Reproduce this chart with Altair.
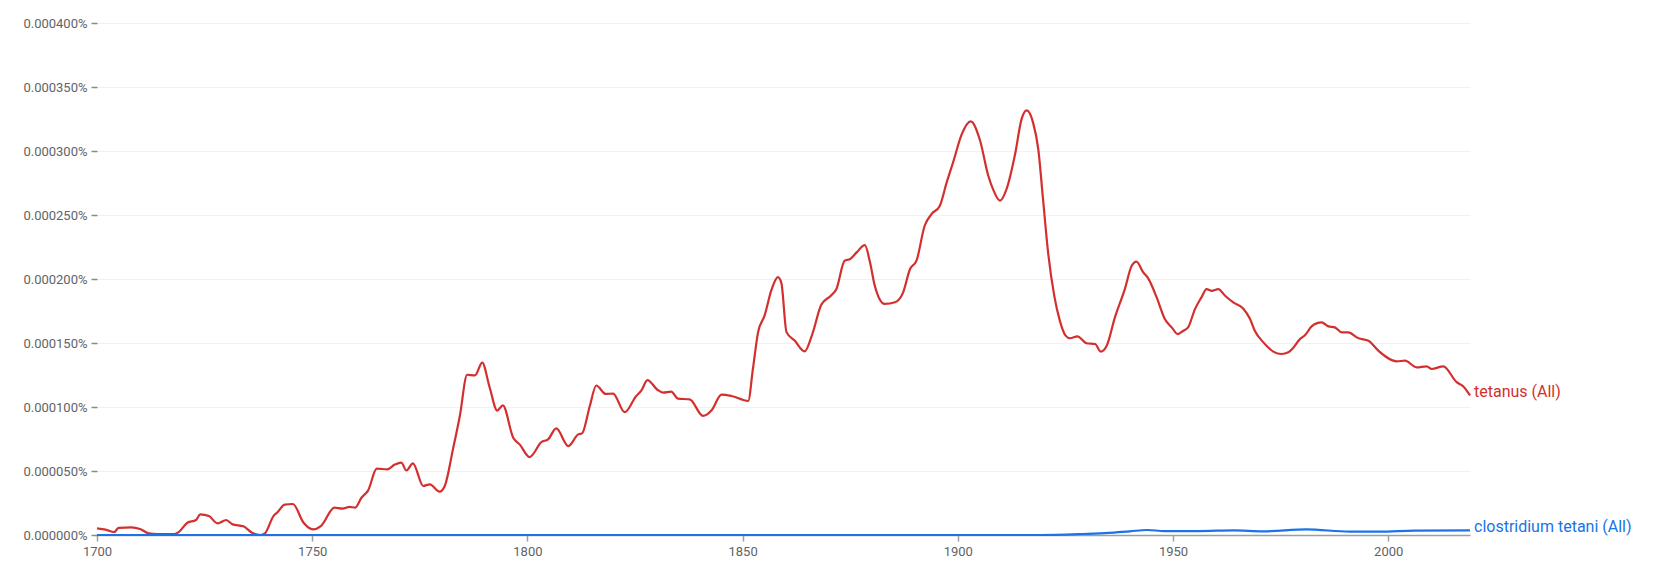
import altair as alt
import pandas as pd

# tetanus (All): year, value in millionths of a percent
tet_years = [1700, 1702, 1704, 1705, 1708, 1710, 1712, 1714, 1718, 1719, 1721, 1723, 1724, 1726, 1728,
             1730, 1731.5, 1734, 1736, 1738, 1739, 1741, 1742, 1743.6, 1745.5, 1748, 1750.2, 1752,
             1755.2, 1757, 1758.7, 1760, 1761.4, 1763, 1765, 1767.4, 1769.2, 1770.7, 1771.9, 1773.4,
             1775.8, 1777.3, 1779.6, 1780.8, 1782.7, 1784.3, 1786, 1787.8, 1789.5, 1791.2, 1793,
             1794.3, 1796.7, 1798.2, 1800.5, 1803.3, 1804.8, 1806.7, 1809.5, 1811.8, 1812.7, 1814.5,
             1816, 1818.2, 1819.9, 1822.6, 1825.2, 1826.5, 1827.9, 1830.2, 1831.5, 1833.4, 1835,
             1837.7, 1840.8, 1842.8, 1845.1, 1847.4, 1851.3, 1852.4, 1853.6, 1855.1, 1856.7, 1858.2,
             1859, 1860.2, 1862.1, 1864.4, 1866.2, 1868.3, 1870.5, 1871.8, 1873.7, 1875, 1876.5,
             1878.4, 1879.6, 1880.7, 1883, 1885.4, 1887.3, 1888.9, 1890.4, 1892.3, 1893.9, 1895.8,
             1897.4, 1899, 1900.9, 1903, 1905.1, 1907.1, 1908.2, 1909.8, 1911.3, 1913.3, 1914.8,
             1916, 1917.5, 1918.7, 1919.8, 1921, 1922.4, 1923.7, 1925, 1926.1, 1927.8, 1929.9,
             1931.9, 1933.2, 1934.6, 1936.5, 1938.8, 1940.4, 1941.5, 1943.1, 1944.2, 1946.2, 1948.1,
             1949.7, 1951.1, 1952.4, 1953.5, 1955.1, 1956.6, 1957.8, 1959, 1960.5, 1962.1, 1964,
             1966.3, 1967.9, 1969, 1971, 1973.3, 1975.2, 1976.8, 1977.9, 1979.5, 1980.7, 1982.2,
             1984.5, 1986.1, 1987.6, 1989.2, 1990.7, 1993.1, 1995.4, 1997.7, 2002, 2003.9, 2006.6,
             2008.9, 2010.1, 2012.8, 2015.9, 2017.4, 2019]
tet_values = [5.2, 4.2, 2.3, 5.5, 6.0, 4.7, 1.3, 0.8, 0.8, 2.3, 9.6, 11.7, 16.1, 14.8, 9.1,
              11.7, 8.3, 6.8, 1.8, 0.0, 1.3, 14.8, 18.0, 23.7, 24.2, 9.6, 4.4, 7.0,
              21.4, 20.6, 21.9, 21.4, 28.9, 34.9, 51.8, 51.3, 55.0, 56.5, 50.4, 56.0,
              38.3, 39.6, 33.9, 38.3, 66.9, 93.0, 125.2, 124.7, 134.6, 115.6, 97.2,
              101.3, 76.0, 70.8, 60.9, 72.7, 74.7, 83.3, 69.5, 78.6, 79.4, 100.8,
              116.8, 110.2, 110.5, 96.0, 108.2, 113.0, 121.0, 113.5, 111.2, 112.0, 106.5,
              106.0, 93.0, 97.4, 109.6, 108.6, 104.7, 130.0, 158.5, 171.4, 191.5, 201.5,
              197.0, 158.5, 151.9, 143.5, 157.0, 180.0, 187.0, 192.2, 214.3, 215.6, 220.8,
              226.5, 213.0, 194.8, 180.5, 181.8, 189.6, 207.8, 214.3, 241.6, 250.7, 257.1,
              275.3, 292.2, 313.0, 323.2, 309.0, 280.5, 270.0, 261.2, 270.0, 297.4, 324.7,
              331.7, 322.0, 301.3, 262.3, 220.0, 187.0, 167.5, 156.0, 153.7, 155.2, 149.8,
              149.2, 143.3, 147.9, 170.0, 192.1, 210.3, 213.6, 205.1, 200.7, 185.6, 168.7,
              162.2, 157.0, 159.6, 162.2, 176.5, 185.6, 192.1, 190.8, 192.1, 186.9, 181.7,
              177.0, 168.7, 159.6, 150.5, 143.3, 141.4, 142.7, 146.1, 153.1, 156.2, 163.0,
              166.1, 163.0, 162.2, 158.3, 158.3, 153.7, 151.8, 144.0, 135.7, 136.2, 131.0,
              131.8, 129.7, 131.8, 119.4, 116.2, 109.0]

# clostridium tetani (All)
ct_years = [1700, 1750, 1800, 1850, 1900, 1919, 1929, 1935, 1940, 1944, 1948, 1956, 1964, 1971,
            1981, 1991, 1998, 2006, 2019]
ct_values = [0.0, 0.0, 0.0, 0.0, 0.0, 0.0, 0.8, 1.6, 2.9, 3.9, 3.1, 3.1, 3.6, 2.9,
             4.4, 2.6, 2.6, 3.4, 3.6]

series_names = ["tetanus (All)", "clostridium tetani (All)"]
series_colors = ["#d32f2f", "#1a73e8"]
y_ticks = [0, 0.00005, 0.0001, 0.00015, 0.0002, 0.00025, 0.0003, 0.00035, 0.0004]
x_ticks = [1700, 1750, 1800, 1850, 1900, 1950, 2000]

rows = []
for y, v in zip(tet_years, tet_values):
    rows.append({"year": y, "value": v * 1e-6, "series": series_names[0]})
for y, v in zip(ct_years, ct_values):
    rows.append({"year": y, "value": v * 1e-6, "series": series_names[1]})
df = pd.DataFrame(rows)

labels = pd.DataFrame([
    {"year": tet_years[-1], "value": tet_values[-1] * 1e-6, "series": series_names[0]},
    {"year": ct_years[-1], "value": ct_values[-1] * 1e-6, "series": series_names[1]},
])

color_scale = alt.Scale(domain=series_names, range=series_colors)

x_enc = alt.X("year:Q", scale=alt.Scale(domain=[1700, 2019], nice=False, zero=False),
              axis=alt.Axis(values=x_ticks, format="d", title=None, grid=False,
                            labelFlush=False,
                            domainColor="#9e9e9e", tickColor="#9e9e9e", tickSize=6,
                            tickWidth=1.5, domainWidth=1.5,
                            labelPadding=4, labelFontSize=13, labelColor="#5f6368",
                            labelFont="Roboto"))
y_enc = alt.Y("value:Q", scale=alt.Scale(domain=[0, 0.0004], nice=False),
              axis=alt.Axis(values=y_ticks, labelExpr="format(datum.value, '.6f') + '%'",
                            title=None, domain=False, tickColor="#8a8a8a", tickSize=6,
                            tickWidth=1.5,
                            labelPadding=4, labelFontSize=13, labelColor="#5f6368",
                            labelFont="Roboto", gridColor="#f1f1f1"))

lines = alt.Chart(df).mark_line(strokeWidth=2.2, interpolate="monotone").encode(
    x=x_enc, y=y_enc,
    color=alt.Color("series:N", scale=color_scale, legend=None),
    detail="series:N",
)

text = alt.Chart(labels).mark_text(align="left", baseline="middle", dx=4, dy=-3,
                                   fontSize=16, font="Roboto").encode(
    x="year:Q", y="value:Q", text="series:N",
    color=alt.Color("series:N", scale=color_scale, legend=None),
)

chart = alt.layer(lines, text).properties(
    width=1373, height=512,
    background="white",
    padding={"left": 14, "top": 9, "right": 5, "bottom": 5},
).configure_view(stroke=None)

chart.save("out.html", embed_options={"renderer": "svg", "actions": False})
